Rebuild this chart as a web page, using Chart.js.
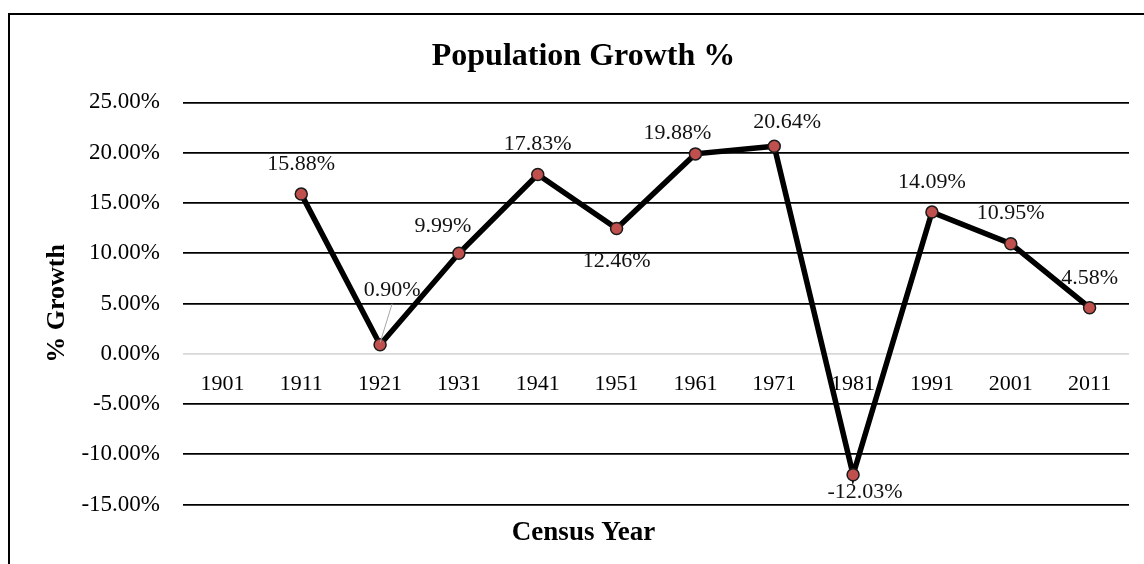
<!DOCTYPE html>
<html>
<head>
<meta charset="utf-8">
<script src="https://cdn.jsdelivr.net/npm/chart.js@4"></script>
<style>
  html, body { margin: 0; padding: 0; background: #fff; }
  #wrap { position: relative; width: 1144px; height: 564px; }
</style>
</head>
<body>
<div id="wrap"><canvas id="growth-chart"></canvas></div>
<script>
const censusYears = ['1901', '1911', '1921', '1931', '1941', '1951', '1961', '1971', '1981', '1991', '2001', '2011'];
const growthPct = [null, 15.88, 0.90, 9.99, 17.83, 12.46, 19.88, 20.64, -12.03, 14.09, 10.95, 4.58];
const yTicks = [-15, -10, -5, 0, 5, 10, 15, 20, 25];

// where each data label sits relative to its point (text centre)
const labelOffsets = [null, [0, -30], [12, -55], [-16, -27], [0, -30], [0, 33], [-18, -21], [13, -24], [12, 17], [0, -30], [0, -30], [0, -30]];

const serif = "'Liberation Serif', 'Times New Roman', serif";

const frame = {
  id: 'frame',
  afterDraw(chart) {
    const ctx = chart.ctx;
    ctx.save();
    ctx.fillStyle = '#000';
    ctx.fillRect(8, 13, 2, chart.height - 13);
    ctx.fillRect(8, 13, chart.width - 8, 2);
    ctx.restore();
  }
};

const pointLabels = {
  id: 'pointLabels',
  afterDatasetsDraw(chart) {
    const ctx = chart.ctx;
    const meta = chart.getDatasetMeta(0);
    ctx.save();
    ctx.font = '22px ' + serif;
    ctx.fillStyle = '#111';
    ctx.textAlign = 'center';
    ctx.textBaseline = 'middle';
    growthPct.forEach((v, i) => {
      if (v === null) return;
      const pt = meta.data[i];
      const [dx, dy] = labelOffsets[i];
      const lx = pt.x + dx, ly = pt.y + dy;
      // leader line when the label is pushed away
      if (Math.abs(dy) > 45) {
        ctx.strokeStyle = '#a6a6a6';
        ctx.lineWidth = 1;
        ctx.beginPath();
        ctx.moveTo(lx, ly + 14);
        ctx.lineTo(pt.x, pt.y - 2);
        ctx.stroke();
      }
      ctx.fillText(v.toFixed(2) + '%', lx, ly);
    });
    ctx.restore();
  }
};

new Chart(document.getElementById('growth-chart'), {
  type: 'line',
  data: {
    labels: censusYears,
    datasets: [{
      label: 'Growth',
      data: growthPct,
      borderColor: '#000',
      borderWidth: 5.5,
      pointRadius: 6,
      pointHoverRadius: 6,
      pointBackgroundColor: '#c0504d',
      pointBorderColor: '#1a1a1a',
      pointBorderWidth: 1.5,
      tension: 0
    }]
  },
  options: {
    responsive: true,
    maintainAspectRatio: false,
    animation: false,
    layout: { padding: { left: 23, right: 0, top: 0, bottom: 0 } },
    plugins: {
      legend: { display: false },
      tooltip: { enabled: false },
      title: {
        display: true,
        text: 'Population Growth %',
        color: '#000',
        font: { family: serif, size: 32, weight: 'bold' },
        padding: { top: 38, bottom: 26 }
      },
      subtitle: {
        display: true,
        position: 'bottom',
        text: 'Census Year',
        color: '#000',
        font: { family: serif, size: 27, weight: 'bold' },
        padding: { top: 12, bottom: 15 }
      }
    },
    scales: {
      x: {
        type: 'category',
        position: { y: 0 },
        offset: true,
        grid: { display: false, drawTicks: false },
        border: { display: false },
        ticks: {
          color: '#000',
          font: { family: serif, size: 22 },
          padding: 17,
          maxRotation: 0,
          autoSkip: false
        }
      },
      y: {
        min: -15,
        max: 25,
        afterBuildTicks(scale) {
          scale.ticks = yTicks.map(v => ({ value: v }));
        },
        afterFit(scale) { scale.width = 160; },
        grid: {
          drawTicks: false,
          lineWidth: 1.8,
          color: c => (c.tick && c.tick.value === 0 ? '#d9d9d9' : '#000')
        },
        border: { display: false },
        ticks: {
          color: '#000',
          font: { family: serif, size: 23 },
          padding: 23,
          callback: v => v.toFixed(2) + '%'
        },
        title: {
          display: true,
          text: '% Growth',
          color: '#000',
          font: { family: serif, size: 26, weight: 'bold' },
          padding: { top: 19, bottom: 0 }
        }
      },
      yRight: {
        position: 'right',
        display: true,
        grid: { display: false, drawTicks: false },
        border: { display: false },
        ticks: { display: false },
        afterFit(scale) { scale.width = 15; }
      }
    }
  },
  plugins: [frame, pointLabels]
});
</script>
</body>
</html>
